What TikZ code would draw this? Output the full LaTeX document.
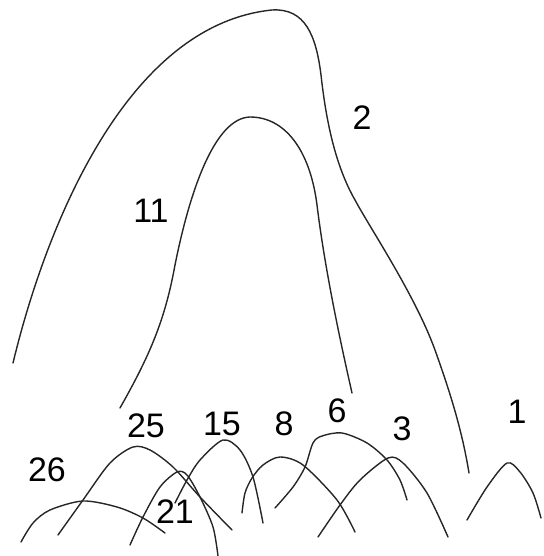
\documentclass[tikz,border=0pt]{standalone}
\usepackage{fontspec}
\setmainfont{Liberation Sans}
\tikzset{
  contour/.style={
    draw=black!85,
    line width=1.4pt,
    line cap=round
  },
  tag/.style={font=\fontsize{34}{40}\selectfont,inner sep=0pt}
}

\begin{document}
\begin{tikzpicture}[x=1pt,y=-1pt]
  \useasboundingbox (0,0) rectangle (543,556);

  % Outer contour and inner contour.
  \draw[contour] (13,363) .. controls (45,230) and (125,25) .. (272,10)
    .. controls (305,8) and (316,35) .. (321,75)
    .. controls (326,120) and (335,165) .. (355,200)
    .. controls (370,228) and (415,295) .. (435,350)
    .. controls (450,392) and (462,430) .. (469,473);
  \draw[contour] (120,408) .. controls (150,355) and (165,320) .. (175,265)
    .. controls (190,190) and (215,118) .. (250,117)
    .. controls (285,117) and (310,150) .. (317,205)
    .. controls (325,270) and (340,340) .. (352,393);

  % Small arcs along the bottom.
  \draw[contour] plot[smooth] coordinates {
    (21,542) (33,523) (50,510) (83,501) (117,507) (143,518) (165,533)};
  \draw[contour] plot[smooth] coordinates {
    (58,535) (83,500) (110,463) (133,447) (150,450) (173,467)
    (200,497) (232,530)};
  \draw[contour] plot[smooth] coordinates {
    (130,545) (143,517) (160,487) (177,472) (187,475) (200,497)
    (213,527) (218,556)};
  \draw[contour] plot[smooth] coordinates {
    (175,503) (187,480) (200,460) (223,440) (240,450) (253,477)
    (263,523)};
  \draw[contour] plot[smooth] coordinates {
    (242,513) (245,493) (252,478) (263,465) (280,457) (303,465)
    (337,500) (355,532)};
  \draw[contour] plot[smooth] coordinates {
    (275,508) (293,487) (305,467) (313,443) (322,436) (342,433)
    (367,443) (387,460) (400,480) (407,500)};
  \draw[contour] plot[smooth] coordinates {
    (318,537) (340,505) (360,480) (388,458) (403,463) (427,493)
    (448,537)};
  \draw[contour] plot[smooth] coordinates {
    (467,520) (487,487) (507,463) (520,472) (533,493) (541,518)};

  % Labels.
  \node[tag] (l2) at (362,118) {2};
  \node[tag] (l11) at (151,211) {11};
  \node[tag] (l26) at (47,470) {26};
  \node[tag] (l25) at (146,426) {25};
  \node[tag] (l15) at (222,424) {15};
  \node[tag] (l21) at (175,512) {21};
  \node[tag] (l8) at (284,424) {8};
  \node[tag] (l6) at (337,411) {6};
  \node[tag] (l3) at (402,429) {3};
  \node[tag] (l1) at (517,412) {1};
\end{tikzpicture}
\end{document}
